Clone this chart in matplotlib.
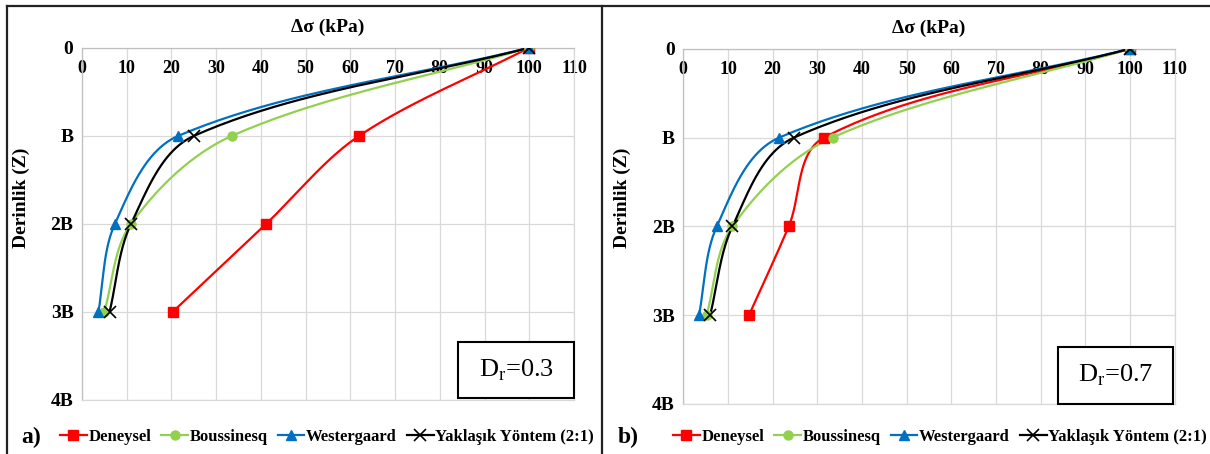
import numpy as np
import matplotlib
matplotlib.use("Agg")
import matplotlib.pyplot as plt
from matplotlib.patches import Rectangle
from matplotlib.lines import Line2D

plt.rcParams['font.family'] = ['Liberation Serif', 'DejaVu Serif']
plt.rcParams['mathtext.fontset'] = 'custom'
plt.rcParams['mathtext.rm'] = 'Liberation Serif'

# ---- data ----
depth = [0, 1, 2, 3]                       # in units of B
depth_labels = ['0', 'B', '2B', '3B', '4B']
x_ticks = list(range(0, 111, 10))

series_names = ['Deneysel', 'Boussinesq', 'Westergaard', 'Yaklaşık Yöntem (2:1)']

a_deneysel = [100, 62.0, 41.2, 20.3]
a_boussinesq = [100, 33.6, 11.0, 5.0]
a_westergaard = [100, 21.6, 7.4, 3.7]
a_yaklasik = [100, 25.1, 11.0, 6.2]

b_deneysel = [100, 31.5, 23.6, 14.7]
b_boussinesq = [100, 33.4, 11.0, 5.2]
b_westergaard = [100, 21.5, 7.5, 3.5]
b_yaklasik = [100, 24.8, 11.0, 6.0]

panel_tags = ['a)', 'b)']
dr_values = ['0.3', '0.7']

# ---- styles ----
colors = ['#FF0000', '#92D050', '#0070C0', '#000000']
markers = ['s', 'o', '^', 'x']
msizes = [7, 6.5, 7, 8]


def smooth_curve(ax, xs, ys, n=50, k=0.33):
    """Excel-like smoothed line computed in display space (tangent along
    neighbour chord, control length proportional to segment length)."""
    pts = ax.transData.transform(np.column_stack([xs, ys]))
    m = len(pts)
    tangents = []
    for i in range(m):
        a = pts[i - 1] if i > 0 else pts[i]
        b = pts[i + 1] if i + 1 < m else pts[i]
        d = b - a
        nrm = np.hypot(*d)
        tangents.append(d / nrm if nrm > 0 else d)
    out = []
    for i in range(m - 1):
        p1, p2 = pts[i], pts[i + 1]
        L = np.hypot(*(p2 - p1))
        c1 = p1 + tangents[i] * L * k
        c2 = p2 - tangents[i + 1] * L * k
        t = np.linspace(0, 1, n)[:, None]
        seg = ((1 - t) ** 3) * p1 + 3 * ((1 - t) ** 2) * t * c1 + 3 * (1 - t) * t ** 2 * c2 + t ** 3 * p2
        out.append(seg if i == 0 else seg[1:])
    out = np.vstack(out)
    d = ax.transData.inverted().transform(out)
    return d[:, 0], d[:, 1]


fig = plt.figure(figsize=(12.1, 4.54), dpi=100)
W, H = 1210.0, 454.0

panels = [
    dict(rect=(81.8, 47.7, 574.0, 400.0), data=[a_deneysel, a_boussinesq, a_westergaard, a_yaklasik],
         box=(84.1, 3.34, 110, 3.98), title_y=27, ylab_x=21, tag_x=31, leg_cx=327, dr=dr_values[0], tag=panel_tags[0]),
    dict(rect=(683.3, 48.7, 1174.8, 404.0), data=[b_deneysel, b_boussinesq, b_westergaard, b_yaklasik],
         box=(83.8, 3.36, 109.7, 4.0), title_y=28, ylab_x=622, tag_x=628, leg_cx=940, dr=dr_values[1], tag=panel_tags[1]),
]

for p in panels:
    x0, y0, x1, y1 = p['rect']
    ax = fig.add_axes([x0 / W, 1 - y1 / H, (x1 - x0) / W, (y1 - y0) / H])
    ax.set_xlim(0, 110)
    ax.set_ylim(4, 0)
    ax.set_xticks(x_ticks)
    ax.set_yticks(range(5))
    ax.set_yticklabels(depth_labels)
    ax.grid(True, color='#D9D9D9', lw=0.9)
    ax.set_axisbelow(True)
    for s in ax.spines.values():
        s.set_color('#D9D9D9')
        s.set_linewidth(0.9)
    ax.spines['top'].set_color('#BFBFBF')
    ax.spines['left'].set_color('#BFBFBF')
    ax.xaxis.tick_top()
    ax.tick_params(axis='x', length=0, pad=-21, labelsize=13)
    ax.tick_params(axis='y', length=0, pad=6, labelsize=14)
    for lab in ax.get_xticklabels() + ax.get_yticklabels():
        lab.set_fontweight('bold')

    handles = []
    for vals, name, c, mk, ms in zip(p['data'], series_names, colors, markers, msizes):
        sx, sy = smooth_curve(ax, vals, depth)
        ax.plot(sx, sy, color=c, lw=1.6, zorder=3)
        ax.plot(vals, depth, ls='none', marker=mk, color=c, ms=ms, mew=1.2 if mk == 'x' else 1, zorder=4)
        handles.append(Line2D([], [], color=c, lw=1.6, marker=mk, ms=ms, mew=1.2 if mk == 'x' else 1))

    # Dr box
    bx0, by0, bx1, by1 = p['box']
    ax.add_patch(Rectangle((bx0, by0), bx1 - bx0, by1 - by0, fill=True, facecolor='white',
                           edgecolor='black', lw=1.5, zorder=5, clip_on=False))
    ax.text((bx0 + bx1) / 2, (by0 + by1) / 2, r'D$_{\mathrm{r}}$=' + p['dr'], ha='center', va='center',
            fontsize=19, zorder=6)

    # titles
    fig.text(((x0 + x1) / 2) / W, 1 - p['title_y'] / H, 'Δσ (kPa)', ha='center', va='center',
             fontsize=14, fontweight='bold')
    fig.text(p['ylab_x'] / W, 1 - 198 / H, 'Derinlik (Z)', ha='center', va='center', rotation=90,
             fontsize=14, fontweight='bold')
    fig.text(p['tag_x'] / W, 1 - 437 / H, p['tag'], ha='center', va='center', fontsize=17, fontweight='bold')
    leg = fig.legend(handles, series_names, loc='center', bbox_to_anchor=(p['leg_cx'] / W, 1 - 437 / H),
                     ncol=4, frameon=False, handlelength=1.6, handletextpad=0.1, columnspacing=0.6,
                     prop=dict(family='Liberation Serif', weight='bold', size=12))

# panel frame lines
frame_kw = dict(color='#222222', lw=1.6, transform=fig.transFigure)
fig.add_artist(Line2D([7 / W, 7 / W], [0, 1 - 6 / H], **frame_kw))
fig.add_artist(Line2D([7 / W, 1], [1 - 6 / H, 1 - 6 / H], **frame_kw))
fig.add_artist(Line2D([602 / W, 602 / W], [0, 1 - 6 / H], **frame_kw))

fig.savefig('out.png', dpi=100, facecolor='white')
